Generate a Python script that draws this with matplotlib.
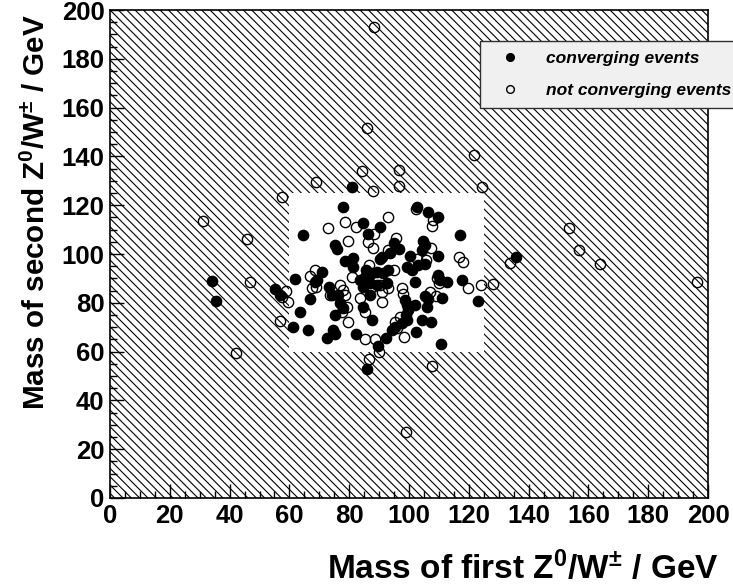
import matplotlib
matplotlib.use("Agg")
import matplotlib.pyplot as plt
from matplotlib.patches import Rectangle

plt.rcParams['font.family'] = ['Liberation Sans', 'DejaVu Sans']
plt.rcParams['font.weight'] = 'bold'
plt.rcParams['mathtext.fontset'] = 'custom'
plt.rcParams['mathtext.rm'] = 'Liberation Sans'
plt.rcParams['mathtext.bf'] = 'Liberation Sans:bold'
plt.rcParams['mathtext.it'] = 'Liberation Sans:bold:italic'
plt.rcParams['hatch.color'] = 'black'
plt.rcParams['hatch.linewidth'] = 0.8

# ---- data ----
conv_x = [80.8, 78.0, 102.8, 106.5, 109.8, 84.5, 90.3, 64.4, 86.4, 117.1, 95.1, 75.3, 75.8,
          104.8, 105.4, 104.2, 96.6, 93.6, 90.9, 100.3, 109.8, 78.6, 81.4, 90.3, 81.4, 85.6,
          87.5, 89.2, 91.4, 93.1, 99.2, 100.9, 103.1, 105.4, 83.6, 85.3, 70.8, 69.1, 73.3,
          102.0, 112.6, 117.6, 34.0, 61.9, 55.2, 56.9, 35.4, 61.3, 63.5, 66.3, 66.9, 68.6,
          74.1, 76.4, 84.7, 87.0, 89.2, 92.5, 87.0, 98.7, 99.2, 99.8, 99.0, 99.2, 97.6,
          95.3, 94.2, 76.9, 78.0, 75.3, 84.7, 87.5, 72.5, 74.7, 75.3, 82.3, 89.7, 85.9,
          92.3, 102.3, 104.2, 107.4, 105.9, 105.4, 106.3, 109.6, 110.4, 110.9, 110.6,
          123.0, 135.8, 102.0]
conv_y = [127.6, 119.4, 119.1, 117.1, 115.3, 112.6, 110.9, 107.8, 108.2, 107.8, 104.4, 103.7, 101.9,
          105.5, 103.7, 101.6, 101.9, 100.3, 98.6, 99.2, 99.2, 97.3, 98.2, 97.8, 94.8, 93.4,
          92.1, 92.7, 92.1, 93.4, 94.8, 93.4, 95.5, 95.9, 89.3, 90.7, 92.7, 89.3, 86.6,
          88.6, 88.6, 89.3, 89.1, 89.6, 85.7, 83.2, 80.9, 70.0, 76.4, 68.9, 81.4, 88.6,
          83.2, 83.2, 86.6, 88.0, 87.3, 88.0, 83.2, 81.1, 79.1, 77.0, 75.0, 73.0, 71.6,
          70.2, 68.9, 79.8, 77.7, 75.0, 78.4, 73.0, 65.5, 68.9, 67.2, 67.2, 62.4, 52.7,
          65.5, 67.9, 73.0, 72.0, 78.2, 82.8, 81.6, 91.4, 89.3, 81.8, 63.1,
          80.7, 98.6, 79.1]

nconv_x = [68.9, 84.2, 96.7, 87.9, 96.6, 124.3, 102.5, 92.9, 107.9, 107.6, 78.6, 82.2, 73.0,
           88.3, 79.5, 86.4, 95.7, 88.1, 107.3, 92.9, 86.6, 102.6, 105.7, 116.8, 118.0, 95.1,
           80.8, 68.6, 66.9, 76.9, 109.3, 110.1, 119.8, 124.1, 128.0, 90.3, 93.1, 97.6, 57.6,
           31.2, 45.9, 46.8, 58.9, 59.6, 57.4, 56.9, 67.5, 68.9, 42.1, 73.6, 78.0, 78.6, 87.5,
           90.9, 83.6, 90.9, 98.1, 97.0, 95.3, 95.9, 79.2, 77.5, 79.7, 85.3, 85.3, 88.6, 90.1,
           86.6, 98.3, 107.0, 108.9, 107.8, 153.6, 156.9, 163.9, 133.8, 196.2, 88.3, 86.0,
           121.7, 99.0]
nconv_y = [129.6, 134.0, 134.4, 125.9, 128.0, 127.6, 118.3, 115.3, 113.9, 111.5, 113.0, 111.2, 110.5,
           108.2, 105.5, 105.0, 106.4, 102.6, 102.3, 101.6, 95.5, 97.8, 97.5, 98.6, 96.8, 93.4,
           90.7, 93.4, 91.0, 87.3, 90.0, 88.0, 86.2, 87.3, 87.6, 87.3, 85.9, 85.9, 123.5,
           113.6, 106.1, 88.6, 84.8, 80.5, 82.5, 72.7, 85.9, 86.6, 59.5, 83.2, 85.2, 83.2, 86.6,
           84.5, 81.8, 80.5, 83.6, 74.3, 72.3, 69.5, 78.4, 76.4, 72.3, 76.4, 65.0, 65.0, 59.7,
           57.1, 66.1, 84.5, 82.9, 54.2, 110.8, 101.6, 95.8, 96.4, 88.6, 193.0, 151.6,
           140.6, 27.0]

axis_min, axis_max = 0, 200
box_lo, box_hi = 60, 125   # allowed (white) mass window

fig = plt.figure(figsize=(7.33, 5.86), dpi=100)
ax = fig.add_axes([0.1501, 0.1502, 0.8158, 0.8327])

ax.add_patch(Rectangle((axis_min, axis_min), axis_max - axis_min, axis_max - axis_min,
                       facecolor='white', edgecolor='black', hatch='\\\\\\\\', linewidth=0, zorder=0))
ax.add_patch(Rectangle((box_lo, box_lo), box_hi - box_lo, box_hi - box_lo,
                       facecolor='white', edgecolor='none', linewidth=0, zorder=0.5))

ax.plot(conv_x, conv_y, 'o', ms=7.4, mfc='black', mec='black', mew=1.0, ls='none',
        label='converging events', zorder=3)
ax.plot(nconv_x, nconv_y, 'o', ms=7.4, mfc='none', mec='black', mew=1.0, ls='none',
        label='not converging events', zorder=4)

ax.set_xlim(axis_min, axis_max)
ax.set_ylim(axis_min, axis_max)
ax.set_xticks(range(0, 201, 20))
ax.set_yticks(range(0, 201, 20))
ax.set_xticks(range(0, 201, 5), minor=True)
ax.set_yticks(range(0, 201, 5), minor=True)
ax.tick_params(which='major', direction='in', length=10, width=1.0, labelsize=18.5)
ax.tick_params(axis='x', which='major', pad=4)
ax.tick_params(axis='y', which='major', pad=4)
ax.tick_params(which='minor', direction='in', length=5, width=1.0)
for lab in ax.get_xticklabels() + ax.get_yticklabels():
    lab.set_fontweight('bold')
for sp in ax.spines.values():
    sp.set_linewidth(1.2)
    sp.set_zorder(5)

fig.text(0.98, 0.030, r'Mass of first Z$^{\mathbf{0}}$/W$^{\pm}$ / GeV', ha='right', va='center',
         fontsize=24, fontweight='bold')
fig.text(0.05, 0.975, r'Mass of second Z$^{\mathbf{0}}$/W$^{\pm}$ / GeV', ha='center', va='top',
         rotation=90, fontsize=21.3, fontweight='bold')

leg = ax.legend(loc='upper left', bbox_to_anchor=(0.655, 0.821, 0.40, 0.109),
                bbox_transform=fig.transFigure, mode='expand', borderaxespad=0,
                fancybox=False, facecolor='#f0f0f0', edgecolor='#303030', framealpha=1,
                prop={'family': 'Liberation Sans', 'weight': 'bold', 'style': 'italic', 'size': 12.5},
                handlelength=2.4, handletextpad=0.85, labelspacing=1.0, borderpad=0.55,
                markerscale=0.75)
leg.get_frame().set_linewidth(1.0)

fig.savefig('out.png', dpi=100)
